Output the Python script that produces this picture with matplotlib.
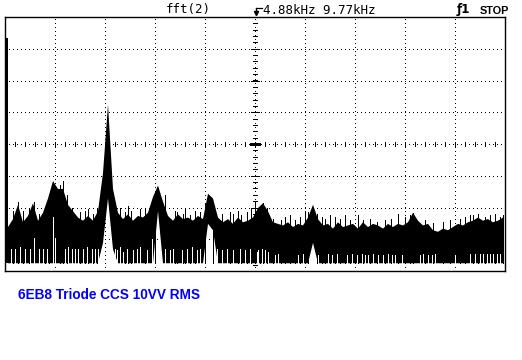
import numpy as np
import matplotlib
matplotlib.use('Agg')
import matplotlib.pyplot as plt
from matplotlib.lines import Line2D

# scope screen: 500 display points over 10 div, 8 div high
bins = np.arange(2.5, 500, 5)

# top of the fft trace (div)
upper = [1.4, 1.65, 2.1, 1.55, 1.75, 2.15, 1.6, 1.85, 2.3, 2.85,
         2.6, 2.6, 2.1, 1.9, 1.7, 1.6, 1.75, 1.6, 1.9, 3.1,
         5.26, 2.6, 1.85, 1.65, 1.8, 1.6, 1.75, 1.7, 1.85, 2.35,
         2.71, 2.2, 1.75, 1.6, 1.8, 1.65, 1.7, 1.6, 1.75, 1.65,
         2.45, 2.3, 1.7, 1.55, 1.65, 1.5, 1.7, 1.55, 1.6, 1.7,
         2.0, 2.15, 1.9, 1.55, 1.5, 1.45, 1.55, 1.4, 1.5, 1.45,
         1.7, 2.1, 1.65, 1.45, 1.5, 1.35, 1.55, 1.4, 1.45, 1.5,
         1.35, 1.55, 1.4, 1.5, 1.45, 1.35, 1.5, 1.4, 1.5, 1.45,
         1.55, 1.85, 1.6, 1.45, 1.5, 1.3, 1.25, 1.35, 1.3, 1.4,
         1.5, 1.45, 1.55, 1.6, 1.7, 1.6, 1.65, 1.55, 1.6, 1.7]

# bottom of the trace (div)
lower = [0.26, 0.26, 0.26, 0.26, 0.26, 0.26, 0.26, 0.26, 0.26, 0.26,
         0.26, 0.26, 0.26, 0.26, 0.26, 0.26, 0.26, 0.26, 0.26, 0.9,
         2.3, 0.7, 0.26, 0.26, 0.26, 0.26, 0.26, 0.26, 0.26, 0.26,
         1.9, 0.26, 0.26, 0.26, 0.26, 0.26, 0.26, 0.26, 0.26, 0.26,
         1.5, 1.3, 0.26, 0.26, 0.26, 0.26, 0.26, 0.26, 0.26, 0.26,
         0.26, 0.26, 0.26, 0.26, 0.26, 0.26, 0.26, 0.26, 0.26, 0.26,
         0.26, 0.9, 0.26, 0.26, 0.26, 0.26, 0.26, 0.26, 0.26, 0.26,
         0.26, 0.26, 0.26, 0.26, 0.26, 0.26, 0.26, 0.26, 0.26, 0.26,
         0.26, 0.26, 0.26, 0.26, 0.26, 0.26, 0.26, 0.26, 0.26, 0.26,
         0.26, 0.26, 0.26, 0.26, 0.26, 0.26, 0.26, 0.26, 0.26, 0.26]

# single noise spikes sticking out of the trace
spike_x = [8, 13, 18, 24, 29, 34, 40, 44, 55, 58, 62, 67, 75, 80, 83, 88,
           92, 115, 120, 123, 126, 135, 140, 150, 160, 170, 172, 178, 180,
           185, 190, 195, 200, 208, 217, 225, 228, 233, 236, 242, 246, 250,
           255, 258, 262, 268, 276, 280, 285, 290, 295, 300, 303, 312, 317,
           320, 325, 330, 335, 340, 345, 353, 358, 365, 372, 380, 386, 393,
           400, 405, 408, 420, 428, 438, 445, 455, 460, 465, 468, 473, 480,
           485, 490, 495, 498]
spike_top = [1.9, 2.17, 1.9, 2.0, 2.17, 1.8, 1.95, 2.1, 2.7, 2.85, 2.4,
             2.0, 1.85, 1.9, 1.95, 1.8, 2.0, 2.0, 1.85, 2.05, 1.9, 1.95,
             2.0, 2.3, 2.4, 1.9, 1.85, 1.8, 1.95, 1.75, 1.9, 1.85, 2.1,
             1.9, 1.8, 1.85, 1.8, 1.9, 1.75, 1.85, 1.95, 2.2, 2.0, 2.15,
             2.0, 1.65, 1.6, 1.7, 1.75, 1.6, 1.7, 1.9, 1.85, 1.8, 1.7,
             1.65, 1.75, 1.7, 1.65, 1.75, 1.6, 1.75, 1.6, 1.65, 1.55, 1.6,
             1.65, 1.8, 1.7, 1.75, 1.83, 1.6, 1.5, 1.55, 1.6, 1.65, 1.7,
             1.75, 1.75, 1.8, 1.7, 1.75, 1.8, 1.7, 1.75]

# holes in the trace coming up from the bottom
gap_x = [6, 10, 15, 20, 25, 29, 34, 38, 42, 48, 50, 60, 63, 67, 70, 73,
         78, 82, 87, 90, 93, 110, 112, 115, 118, 122, 128, 132, 135, 142,
         147, 160, 165, 168, 177, 182, 187, 192, 195, 212, 217, 222, 228,
         235, 240, 245, 252, 253, 257, 260, 263, 270, 273, 293, 298, 313,
         323, 327, 332, 342, 347, 352, 357, 360, 363, 368, 373, 378, 383,
         387, 390, 397, 415, 418, 423, 427, 430, 450, 465, 470, 475, 478,
         482, 485, 488, 492, 495]
gap_top = [0.7, 0.7, 0.75, 0.7, 0.7, 1.05, 0.7, 0.7, 0.7, 1.7, 1.05, 0.7,
           0.75, 0.7, 0.7, 0.7, 0.7, 0.75, 0.7, 0.7, 0.7, 0.7, 0.65, 0.75,
           0.6, 0.7, 0.65, 0.7, 0.75, 0.65, 1.0, 0.7, 0.65, 0.7, 0.65, 0.7,
           0.75, 0.65, 0.7, 0.7, 0.65, 0.7, 0.65, 0.7, 0.65, 0.7, 0.6,
           0.65, 0.7, 0.65, 0.6, 0.5, 0.55, 0.5, 0.55, 0.5, 0.55, 0.5,
           0.55, 0.5, 0.55, 0.5, 0.55, 0.5, 0.5, 0.55, 0.5, 0.5, 0.55, 0.5,
           0.5, 0.5, 0.5, 0.55, 0.5, 0.5, 0.55, 0.5, 0.55, 0.55, 0.55, 0.55,
           0.55, 0.55, 0.55, 0.55, 0.55]

dc_x = 2
dc_level = 7.34
floor = 0.26

W, H = 522, 360
fig = plt.figure(figsize=(W / 100, H / 100), dpi=100)
ax = fig.add_axes([5 / W, 89 / H, 500 / W, 254 / H])
ax.set_xlim(0, 500)
ax.set_ylim(0, 8)
ax.set_xticks([])
ax.set_yticks([])
for s in ax.spines.values():
    s.set_linewidth(1.0)
    s.set_color('black')

# dotted graticule
dot = dict(color='black', lw=0.72, ls=(0, (1, 4)), antialiased=False, zorder=1)
for gx in range(50, 500, 50):
    ax.axvline(gx, **dot)
for gy in range(1, 8):
    ax.axhline(gy, **dot)

# ticks on the centre lines
ax.vlines(np.arange(10, 500, 10), 4 - 0.07, 4 + 0.07, color='black', lw=0.72, antialiased=False, zorder=1)
ax.hlines(np.arange(0.2, 8, 0.2), 248, 252, color='black', lw=0.72, antialiased=False, zorder=1)
ax.hlines(np.arange(1, 8), 246, 254, color='black', lw=0.72, antialiased=False, zorder=1)
ax.hlines(4, 245, 255, color='black', lw=1.0, antialiased=False, zorder=1)

# fft trace
ax.fill_between(bins, lower, upper, color='black', lw=0, antialiased=False, zorder=2)
ax.vlines(spike_x, floor, spike_top, color='black', lw=0.72, antialiased=False, zorder=2)
ax.vlines(dc_x, floor, dc_level, color='black', lw=1.4, antialiased=False, zorder=2)
ax.vlines(gap_x, floor - 0.02, gap_top, color='white', lw=0.72, antialiased=False, zorder=3)

# header line
mono = dict(family='DejaVu Sans Mono', fontsize=9, color='black', va='baseline')
fig.text(166 / W, 1 - 13.5 / H, 'fft(2)', **mono)
fig.text(263 / W, 1 - 13.5 / H, '4.88kHz 9.77kHz', **mono)
fig.add_artist(Line2D([256 / W, 262 / W], [1 - 8 / H, 1 - 8 / H], transform=fig.transFigure, color='black', lw=0.9))
fig.add_artist(Line2D([256 / W, 256 / W], [1 - 8 / H, 1 - 13 / H], transform=fig.transFigure, color='black', lw=0.9,
                      marker='v', markevery=[1], markersize=3))
fig.text(457 / W, 1 - 13.5 / H, 'ƒ1', family='DejaVu Sans', fontweight='bold', fontsize=8.5, va='baseline')
fig.text(480 / W, 1 - 13.5 / H, 'STOP', family='Liberation Sans', fontweight='bold', fontsize=7.8, va='baseline')

# caption
fig.text(18 / W, 1 - 299 / H, '6EB8 Triode CCS 10VV RMS', family='Liberation Sans', fontweight='bold',
         fontsize=9.8, color='#0000ff', va='baseline')

fig.savefig('out.png', dpi=100)
